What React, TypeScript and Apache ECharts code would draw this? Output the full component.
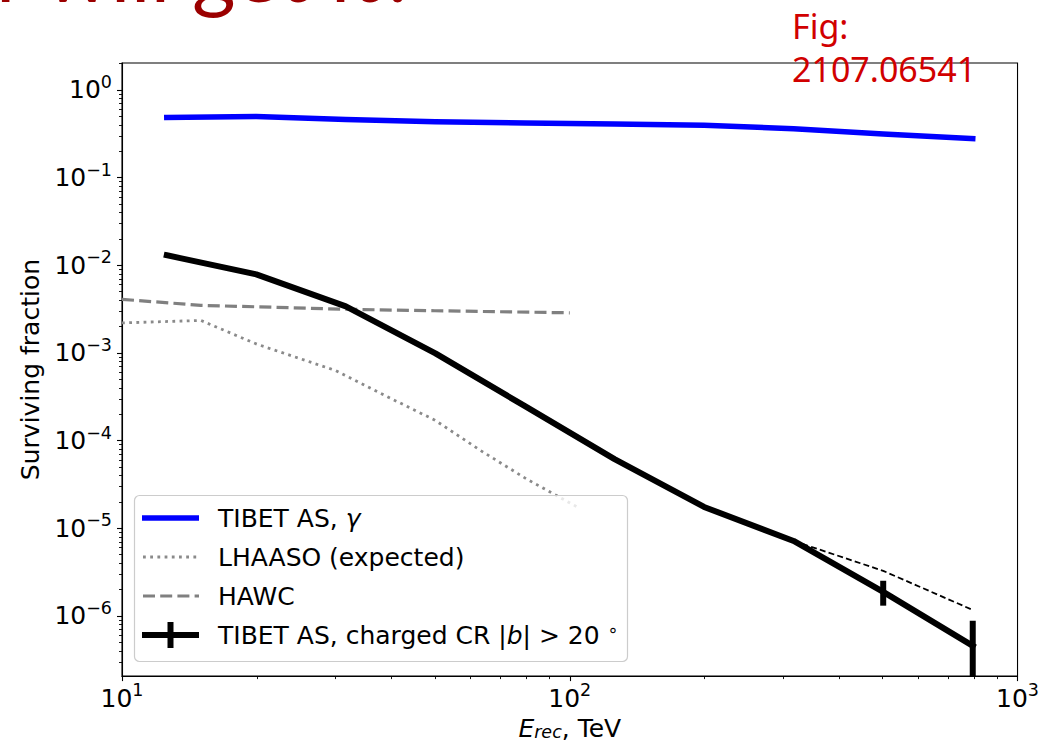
import React, { useEffect, useRef } from 'react';
import * as echarts from 'echarts';

// Reconstructed energy bins (TeV), log-centred
const energyBins = [12.59, 19.95, 31.62, 50.12, 79.43, 125.9, 199.5, 316.2, 501.2, 794.3];
const tibetGamma = [0.484, 0.497, 0.459, 0.435, 0.419, 0.408, 0.397, 0.362, 0.314, 0.279];
const tibetCharged = [0.0130, 0.00788, 0.0034, 9.9e-4, 2.47e-4, 6.15e-5, 1.75e-5, 7.17e-6, 1.88e-6, 4.57e-7];

// Alternative high-energy tail of the charged-CR curve
const tailEnergy = [316.2, 501.2, 794.3];
const tailFraction = [7.17e-6, 3.27e-6, 1.17e-6];

// Error bars: [energy, upper, lower]
const errorBars = [
  [501.2, 2.52e-6, 1.31e-6],
  [794.3, 8.8e-7, 1e-8],
];

const lhaasoEnergy = [10, 15, 20, 30, 40, 50, 63, 80, 105];
const lhaasoFraction = [2.2e-3, 2.35e-3, 1.26e-3, 6.3e-4, 3.0e-4, 1.71e-4, 7.8e-5, 3.66e-5, 1.7e-5];

const hawcEnergy = [10, 15, 20, 31.6, 50, 100];
const hawcFraction = [4.09e-3, 3.49e-3, 3.36e-3, 3.15e-3, 3.03e-3, 2.87e-3];

const xMajor = [10, 100, 1000];
const xMinor = [20, 30, 40, 50, 60, 70, 80, 90, 200, 300, 400, 500, 600, 700, 800, 900];
const yMajor = [1e-6, 1e-5, 1e-4, 1e-3, 1e-2, 1e-1, 1];
const yMinor: number[] = [];
for (let p = -7; p <= 0; p++) {
  for (let m = 2; m <= 9; m++) {
    const v = m * Math.pow(10, p);
    if (v > 2.06e-7 && v < 2.03) yMinor.push(v);
  }
}

const FONT = 'DejaVu Sans';

const pairs = (xs: number[], ys: number[]) => xs.map((x, i) => [x, ys[i]]);

const powLabel = (v: number) => {
  const e = Math.round(Math.log10(v));
  return `{b|10}{s|${e < 0 ? '\u2212' + -e : e}}`;
};

const labelRich = {
  b: { fontSize: 25, fontFamily: FONT, color: '#000', lineHeight: 28 },
  s: { fontSize: 17.5, fontFamily: FONT, color: '#000', verticalAlign: 'top', height: 12 },
};

export default function App() {
  const ref = useRef<HTMLDivElement>(null);

  useEffect(() => {
    if (!ref.current) return;
    const chart = echarts.init(ref.current, undefined, { renderer: 'svg' });

    const axisLine = { show: true, onZero: false, lineStyle: { color: '#000', width: 1.1 } };

    const legendRows = [518, 557, 596, 635];

    chart.setOption({
      animation: false,
      backgroundColor: '#fff',
      grid: {
        left: 122,
        right: 24,
        top: 63,
        bottom: 69,
        show: true,
        borderColor: '#000',
        borderWidth: 1.1,
        backgroundColor: 'transparent',
      },
      xAxis: [
        {
          type: 'log',
          logBase: 10,
          min: 10,
          max: 1000,
          position: 'bottom',
          axisLine,
          axisTick: { show: true, length: 5, customValues: xMajor, lineStyle: { color: '#000', width: 1.1 } },
          axisLabel: { customValues: xMajor, formatter: powLabel, rich: labelRich, margin: 8 },
          splitLine: { show: false },
          name: '{i|E}{sub|rec}{n|, TeV}',
          nameLocation: 'middle',
          nameGap: 37,
          nameTextStyle: {
            rich: {
              i: { fontSize: 25, fontFamily: FONT, fontStyle: 'italic', color: '#000', lineHeight: 28 },
              sub: { fontSize: 17.5, fontFamily: FONT, fontStyle: 'italic', color: '#000', verticalAlign: 'bottom', height: 20 },
              n: { fontSize: 25, fontFamily: FONT, color: '#000', lineHeight: 28 },
            },
          },
        },
        {
          type: 'log',
          logBase: 10,
          min: 10,
          max: 1000,
          position: 'bottom',
          axisLine: { show: false },
          axisTick: { show: true, length: 3, customValues: xMinor, lineStyle: { color: '#000', width: 0.9 } },
          axisLabel: { show: false },
          splitLine: { show: false },
        },
      ],
      yAxis: [
        {
          type: 'log',
          logBase: 10,
          min: 2.06e-7,
          max: 2.03,
          position: 'left',
          axisLine,
          axisTick: { show: true, length: 5, customValues: yMajor, lineStyle: { color: '#000', width: 1.1 } },
          axisLabel: { customValues: yMajor, formatter: powLabel, rich: labelRich, margin: 10 },
          splitLine: { show: false },
          name: 'Surviving fraction',
          nameLocation: 'middle',
          nameGap: 76,
          nameTextStyle: { fontSize: 25, fontFamily: FONT, color: '#000' },
        },
        {
          type: 'log',
          logBase: 10,
          min: 2.06e-7,
          max: 2.03,
          position: 'left',
          axisLine: { show: false },
          axisTick: { show: true, length: 3, customValues: yMinor, lineStyle: { color: '#000', width: 0.9 } },
          axisLabel: { show: false },
          splitLine: { show: false },
        },
      ],
      series: [
        {
          name: 'TIBET AS, γ',
          type: 'line',
          data: pairs(energyBins, tibetGamma),
          symbol: 'none',
          lineStyle: { color: '#0000ff', width: 5.5, cap: 'square', join: 'round' },
          z: 3,
        },
        {
          name: 'LHAASO (expected)',
          type: 'line',
          data: pairs(lhaasoEnergy, lhaasoFraction),
          symbol: 'none',
          lineStyle: { color: '#8a8a8a', width: 2.8, type: [2.8, 4.4], cap: 'butt' },
          z: 3,
        },
        {
          name: 'HAWC',
          type: 'line',
          data: pairs(hawcEnergy, hawcFraction),
          symbol: 'none',
          lineStyle: { color: '#808080', width: 3.2, type: [12, 5.2], cap: 'butt' },
          z: 3,
        },
        {
          name: 'TIBET AS, charged CR',
          type: 'line',
          data: pairs(energyBins, tibetCharged),
          symbol: 'none',
          lineStyle: { color: '#000', width: 6, cap: 'square', join: 'round' },
          z: 4,
        },
        {
          name: 'charged CR tail',
          type: 'line',
          data: pairs(tailEnergy, tailFraction),
          symbol: 'none',
          lineStyle: { color: '#000', width: 1.8, type: [6, 3.2], cap: 'butt' },
          z: 4,
        },
        {
          name: 'error bars',
          type: 'custom',
          clip: true,
          data: errorBars,
          encode: { x: 0, y: [1, 2] },
          renderItem: (_params: any, api: any) => {
            const x = api.value(0);
            const top = api.coord([x, api.value(1)]);
            const bot = api.coord([x, api.value(2)]);
            return {
              type: 'line',
              shape: { x1: top[0], y1: top[1], x2: bot[0], y2: bot[1] },
              style: { stroke: '#000', lineWidth: 6 },
            };
          },
          z: 5,
        },
      ],
      graphic: [
        {
          type: 'text',
          x: -4,
          y: -31,
          z: 50,
          style: {
            text: 'r will get it?',
            fontSize: 84,
            fontFamily: 'Lato',
            fill: '#9b0000',
            verticalAlign: 'middle',
          },
        },
        {
          type: 'text',
          x: 792,
          y: 4,
          z: 50,
          style: {
            text: 'Fig:\n2107.06541',
            fontSize: 34,
            lineHeight: 43,
            fontFamily: 'Noto Sans',
            fill: '#d10000',
            verticalAlign: 'top',
          },
        },
        {
          type: 'group',
          z: 100,
          children: [
            {
              type: 'rect',
              z: 100,
              shape: { x: 134.5, y: 495.5, width: 493, height: 166, r: 5 },
              style: { fill: 'rgba(255,255,255,0.8)', stroke: '#cccccc', lineWidth: 1.2 },
            },
            {
              type: 'line',
              z: 101,
              shape: { x1: 142, y1: legendRows[0], x2: 199, y2: legendRows[0] },
              style: { stroke: '#0000ff', lineWidth: 5.5 },
            },
            {
              type: 'line',
              z: 101,
              shape: { x1: 143, y1: legendRows[1], x2: 199, y2: legendRows[1] },
              style: { stroke: '#8a8a8a', lineWidth: 2.8, lineDash: [2.8, 4.4] },
            },
            {
              type: 'line',
              z: 101,
              shape: { x1: 143, y1: legendRows[2], x2: 199, y2: legendRows[2] },
              style: { stroke: '#808080', lineWidth: 3.2, lineDash: [12, 5.2] },
            },
            {
              type: 'line',
              z: 101,
              shape: { x1: 142, y1: legendRows[3], x2: 199, y2: legendRows[3] },
              style: { stroke: '#000', lineWidth: 6 },
            },
            {
              type: 'line',
              z: 101,
              shape: { x1: 170.5, y1: legendRows[3] - 13, x2: 170.5, y2: legendRows[3] + 13 },
              style: { stroke: '#000', lineWidth: 6 },
            },
            {
              type: 'text',
              z: 101,
              x: 218,
              y: legendRows[0],
              style: {
                text: 'TIBET AS, {i|γ}',
                fontSize: 25,
                fontFamily: FONT,
                fill: '#000',
                verticalAlign: 'middle',
                rich: { i: { fontSize: 25, fontFamily: FONT, fontStyle: 'italic', fill: '#000' } },
              },
            },
            {
              type: 'text',
              z: 101,
              x: 218,
              y: legendRows[1],
              style: { text: 'LHAASO (expected)', fontSize: 25, fontFamily: FONT, fill: '#000', verticalAlign: 'middle' },
            },
            {
              type: 'text',
              z: 101,
              x: 218,
              y: legendRows[2],
              style: { text: 'HAWC', fontSize: 25, fontFamily: FONT, fill: '#000', verticalAlign: 'middle' },
            },
            {
              type: 'text',
              z: 101,
              x: 218,
              y: legendRows[3],
              style: {
                text: 'TIBET AS, charged CR |{i|b}| > 20 {s|∘}',
                fontSize: 25,
                fontFamily: FONT,
                fill: '#000',
                verticalAlign: 'middle',
                rich: {
                  i: { fontSize: 25, fontFamily: FONT, fontStyle: 'italic', fill: '#000' },
                  s: { fontSize: 17.5, fontFamily: FONT, fill: '#000', verticalAlign: 'top', height: 14 },
                },
              },
            },
          ],
        },
      ],
    });

    return () => chart.dispose();
  }, []);

  return (
    <div
      ref={ref}
      style={{ position: 'fixed', left: 0, top: 0, width: 1042, height: 746, background: '#fff' }}
    />
  );
}
